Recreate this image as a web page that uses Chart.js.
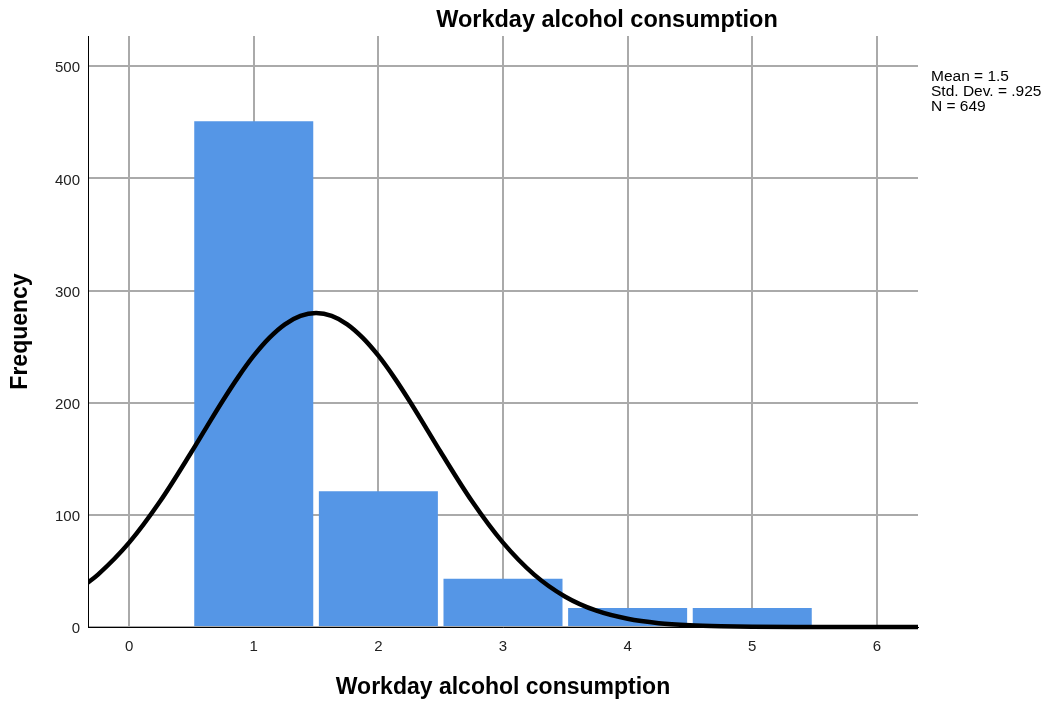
<!DOCTYPE html>
<html>
<head>
<meta charset="utf-8">
<script src="https://cdn.jsdelivr.net/npm/chart.js@4/dist/chart.umd.min.js"></script>
<style>
  html, body { margin: 0; padding: 0; background: #ffffff; }
  #wrap { width: 1051px; height: 706px; position: relative; }
</style>
</head>
<body>
<div id="wrap"><canvas id="c" width="1051" height="706"></canvas></div>
<script>
// ---- data ----
const chartTitle = "Workday alcohol consumption";
const xAxisTitle = "Workday alcohol consumption";
const yAxisTitle = "Frequency";
const statsLines = ["Mean = 1.5", "Std. Dev. = .925", "N = 649"];

const binValues = [1, 2, 3, 4, 5];
const frequencies = [451, 121, 43, 17, 17];

// normal curve (x, frequency)
const curveX = [-0.35, -0.25, 0, 0.25, 0.5, 0.625, 0.75, 0.875, 1.0, 1.125, 1.25, 1.375, 1.5, 1.625, 1.75, 1.875, 2.0, 2.125, 2.25, 2.375, 2.5, 2.75, 3.0, 3.25, 3.5, 3.75, 4.0, 4.25, 4.5, 4.75, 5.0, 5.5, 6.0, 6.35];
const curveY = [37.9, 46.7, 75.2, 112.3, 156.0, 178.9, 201.5, 222.8, 241.9, 257.8, 269.9, 277.4, 279.9, 277.4, 269.9, 257.8, 241.9, 222.8, 201.5, 178.9, 156.0, 112.3, 75.2, 46.7, 27.0, 14.5, 7.3, 3.4, 1.5, 0.6, 0.2, 0.02, 0, 0];

const xMin = -0.33, xMax = 6.33;
const yMin = 0, yMax = 527;

// ---- build datasets ----
const barPoints = binValues.map((v, i) => ({ x: v, y: frequencies[i] }));
const curvePoints = curveX.map((v, i) => ({ x: v, y: curveY[i] }));

const FONT = "'Liberation Sans', Arial, Helvetica, sans-serif";

const textPlugin = {
  id: 'spssText',
  afterDraw(chart) {
    const ctx = chart.ctx;
    ctx.save();
    ctx.fillStyle = '#000';
    ctx.textBaseline = 'alphabetic';
    ctx.textAlign = 'center';
    ctx.font = "bold 23.5px " + FONT;
    ctx.fillText(chartTitle, 607, 27);
    ctx.textAlign = 'left';
    ctx.font = "15.5px " + FONT;
    const baseY = [81, 96, 110.5];
    statsLines.forEach((s, i) => ctx.fillText(s, 931, baseY[i]));
    ctx.restore();
  }
};

new Chart(document.getElementById('c'), {
  type: 'bar',
  data: {
    datasets: [
      {
        type: 'line',
        data: curvePoints,
        borderColor: '#000000',
        borderWidth: 4.5,
        pointRadius: 0,
        fill: false,
        cubicInterpolationMode: 'monotone',
        clip: { left: 0, right: 0, top: 0, bottom: 6 },
        order: 0
      },
      {
        type: 'bar',
        data: barPoints,
        backgroundColor: '#5596e6',
        borderWidth: 0,
        barPercentage: 0.955,
        categoryPercentage: 1.0,
        order: 1
      }
    ]
  },
  options: {
    responsive: false,
    animation: false,
    events: [],
    layout: { padding: { left: 0, top: 36, right: 133, bottom: 0 } },
    plugins: {
      legend: { display: false },
      tooltip: { enabled: false },
      title: { display: false }
    },
    scales: {
      x: {
        type: 'linear',
        min: xMin,
        max: xMax,
        offset: false,
        grid: { offset: false, color: '#aaaaaa', lineWidth: 2, drawTicks: false },
        border: { color: '#000000', width: 1 },
        ticks: {
          stepSize: 1,
          includeBounds: false,
          padding: 11,
          color: '#222222',
          font: { family: FONT, size: 15 },
          maxRotation: 0
        },
        title: {
          display: true,
          text: xAxisTitle,
          color: '#000',
          font: { family: FONT, size: 23, weight: 'bold' },
          padding: { top: 0, bottom: 5 }
        },
        afterFit(scale) { scale.height = 79; }
      },
      y: {
        type: 'linear',
        min: yMin,
        max: yMax,
        grid: { color: '#aaaaaa', lineWidth: 2, drawTicks: false },
        border: { color: '#000000', width: 1 },
        ticks: {
          stepSize: 100,
          includeBounds: false,
          padding: 8,
          labelOffset: 2,
          color: '#222222',
          font: { family: FONT, size: 15 }
        },
        title: {
          display: true,
          text: yAxisTitle,
          color: '#000',
          font: { family: FONT, size: 23, weight: 'bold' },
          padding: { top: 7, bottom: 0 }
        },
        afterFit(scale) { scale.width = 88; }
      }
    }
  },
  plugins: [textPlugin]
});
</script>
</body>
</html>
